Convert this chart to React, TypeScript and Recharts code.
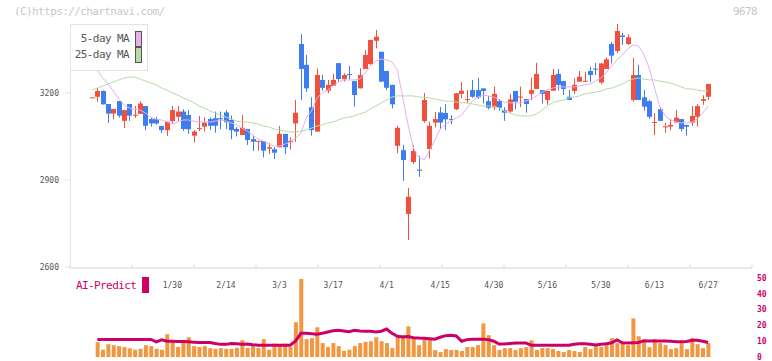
import { Bar, ComposedChart, Line, XAxis, YAxis } from "recharts";

const opens = [
  3185, 3187, 3207, 3162, 3129, 3172, 3104, 3162, 3122, 3128,
  3155, 3110, 3110, 3086, 3072, 3103, 3118, 3136, 3124, 3053,
  3076, 3084, 3110, 3113, 3113, 3133, 3107, 3076, 3055, 3076,
  3041, 3033, 3034, 3008, 3006, 3013, 3059, 3031, 3095, 3369,
  3297, 3151, 3067, 3245, 3208, 3225, 3303, 3248, 3265, 3241,
  3216, 3283, 3300, 3380, 3342, 3276, 3228, 3018, 3003, 2783,
  2962, 2936, 3103, 3007, 3098, 3133, 3131, 3110, 3144, 3197,
  3177, 3210, 3210, 3216, 3172, 3151, 3172, 3141, 3136, 3207,
  3186, 3179, 3197, 3214, 3210, 3176, 3208, 3266, 3241, 3187,
  3207, 3239, 3240, 3276, 3284, 3236, 3283, 3369, 3345, 3398,
  3369, 3176, 3262, 3185, 3172, 3098, 3144, 3083, 3084, 3098,
  3110, 3090, 3098, 3118, 3173, 3187,
];
const highs = [
  3186, 3217, 3209, 3162, 3145, 3172, 3141, 3162, 3155, 3172,
  3155, 3116, 3118, 3086, 3101, 3155, 3155, 3144, 3141, 3072,
  3121, 3116, 3116, 3136, 3136, 3141, 3122, 3082, 3124, 3076,
  3055, 3035, 3034, 3027, 3013, 3086, 3059, 3047, 3176, 3403,
  3331, 3185, 3285, 3262, 3245, 3266, 3303, 3268, 3293, 3241,
  3285, 3348, 3383, 3417, 3342, 3276, 3228, 3087, 3021, 2873,
  3021, 2983, 3200, 3101, 3134, 3152, 3162, 3124, 3201, 3238,
  3210, 3245, 3252, 3216, 3190, 3222, 3179, 3151, 3197, 3207,
  3222, 3179, 3253, 3304, 3210, 3207, 3283, 3283, 3241, 3210,
  3251, 3276, 3273, 3291, 3304, 3302, 3322, 3376, 3438, 3408,
  3403, 3322, 3297, 3210, 3176, 3130, 3151, 3098, 3110, 3141,
  3110, 3090, 3155, 3162, 3192, 3231,
];
const lows = [
  3184, 3170, 3160, 3097, 3110, 3115, 3079, 3104, 3114, 3128,
  3072, 3084, 3090, 3062, 3052, 3095, 3103, 3069, 3059, 3029,
  3069, 3067, 3072, 3063, 3075, 3075, 3041, 3050, 3055, 3021,
  3000, 3001, 2978, 2990, 2972, 3013, 2989, 3006, 3032, 3176,
  3204, 3053, 3067, 3208, 3199, 3225, 3239, 3239, 3247, 3153,
  3216, 3283, 3297, 3354, 3239, 3210, 3147, 2992, 2897, 2693,
  2955, 2911, 3097, 2975, 3082, 3075, 3072, 3093, 3141, 3182,
  3164, 3183, 3179, 3164, 3144, 3141, 3139, 3104, 3132, 3144,
  3151, 3132, 3176, 3214, 3164, 3159, 3208, 3208, 3193, 3176,
  3197, 3239, 3240, 3237, 3262, 3231, 3283, 3302, 3339, 3366,
  3366, 3170, 3176, 3139, 3110, 3055, 3104, 3063, 3072, 3098,
  3067, 3053, 3086, 3084, 3159, 3176,
];
const closes = [
  3185, 3207, 3161, 3129, 3145, 3122, 3141, 3122, 3125, 3164,
  3087, 3095, 3095, 3072, 3101, 3141, 3136, 3076, 3075, 3067,
  3079, 3098, 3087, 3087, 3109, 3099, 3072, 3067, 3080, 3038,
  3032, 3035, 3001, 3013, 2994, 3059, 3013, 3035, 3132, 3283,
  3216, 3072, 3262, 3218, 3228, 3245, 3248, 3262, 3263, 3193,
  3262, 3331, 3383, 3394, 3239, 3218, 3161, 3080, 2969, 2842,
  3000, 2932, 3176, 3087, 3110, 3098, 3109, 3108, 3199, 3208,
  3179, 3187, 3185, 3207, 3149, 3197, 3149, 3132, 3178, 3170,
  3188, 3162, 3210, 3266, 3197, 3207, 3262, 3228, 3214, 3176,
  3228, 3256, 3242, 3262, 3282, 3302, 3316, 3329, 3414, 3393,
  3392, 3262, 3176, 3153, 3118, 3100, 3104, 3085, 3090, 3115,
  3076, 3084, 3121, 3155, 3179, 3231,
];
const ma5 = [
  3300, 3279, 3252, 3231, 3207, 3179, 3159, 3148, 3145, 3141,
  3131, 3117, 3110, 3107, 3100, 3093, 3100, 3107, 3107, 3103,
  3100, 3100, 3100, 3103, 3107, 3103, 3097, 3090, 3079, 3069,
  3055, 3041, 3034, 3024, 3017, 3017, 3024, 3031, 3045, 3062,
  3114, 3138, 3183, 3200, 3210, 3224, 3238, 3245, 3245, 3245,
  3248, 3269, 3293, 3310, 3317, 3314, 3307, 3279, 3186, 3090,
  3010, 2979, 2969, 3003, 3038, 3076, 3093, 3103, 3114, 3124,
  3148, 3172, 3186, 3193, 3190, 3186, 3176, 3169, 3166, 3166,
  3166, 3172, 3179, 3190, 3203, 3210, 3217, 3221, 3221, 3221,
  3221, 3224, 3228, 3231, 3241, 3252, 3269, 3293, 3314, 3331,
  3352, 3366, 3362, 3334, 3286, 3217, 3152, 3121, 3107, 3100,
  3097, 3097, 3100, 3110, 3131, 3155,
];
const ma25 = [
  3210, 3217, 3224, 3231, 3238, 3245, 3252, 3255, 3255, 3248,
  3241, 3234, 3228, 3217, 3210, 3200, 3193, 3183, 3176, 3166,
  3155, 3148, 3138, 3131, 3124, 3117, 3110, 3103, 3100, 3100,
  3097, 3093, 3086, 3083, 3076, 3072, 3069, 3066, 3066, 3069,
  3072, 3079, 3086, 3090, 3097, 3100, 3107, 3114, 3117, 3121,
  3128, 3134, 3145, 3155, 3166, 3176, 3186, 3190, 3190, 3190,
  3190, 3186, 3186, 3183, 3179, 3176, 3172, 3172, 3169, 3166,
  3166, 3162, 3159, 3155, 3155, 3155, 3148, 3138, 3131, 3124,
  3121, 3121, 3121, 3128, 3141, 3155, 3166, 3172, 3176, 3183,
  3186, 3190, 3197, 3200, 3203, 3207, 3214, 3217, 3224, 3231,
  3241, 3248, 3252, 3248, 3245, 3245, 3241, 3238, 3234, 3228,
  3221, 3214, 3214, 3210, 3207, 3207,
];
const volumes = [
  null, 9.4, 4.6, 8.1, 7.5, 6.9, 6.3, 5.6, 4.6, 5.2,
  7.5, 6.9, 5.2, 4.6, 14.4, 9.4, 6.3, 9.4, 12.5, 6.9,
  6.3, 6.9, 5.6, 5.2, 5.6, 5.2, 5.2, 5.8, 10.6, 5.8,
  6.9, 5.8, 11.3, 4.6, 8.5, 6.9, 8.5, 6.3, 22, 49.4,
  11.3, 11.9, 18.8, 8.8, 6.3, 8.8, 6.9, 3.9, 4.6, 6.9,
  8.8, 9.6, 10, 12.5, 10, 8.8, 5.6, 12.5, 13.8, 19.4,
  11.9, 7.5, 11.3, 11.3, 4.4, 3.1, 5, 4.4, 4.4, 3.8,
  6.3, 6.3, 7.5, 21.3, 13.8, 7.5, 4.4, 5.6, 5.6, 4.4,
  5.6, 6.3, 10.6, 4.4, 5.6, 5.6, 5, 3.8, 3.1, 4.4,
  3.8, 3.1, 6.3, 5, 7.5, 6.3, 7.5, 11.9, 8.8, 8.8,
  7.5, 24.4, 13.1, 11.3, 6.3, 11.3, 8.8, 7.5, 5, 5.6,
  8.8, 5, 11.9, 8.1, 5.6, 8.8,
];
const aiPredict = [
  null, 11.1, 11.1, 11.1, 11.1, 11.1, 11.1, 11.1, 11.1, 11.1,
  11.1, 11.1, 9.6, 10.9, 10.0, 10.0, 9.8, 9.8, 9.6, 9.4,
  9.2, 9.2, 9.2, 8.5, 8.0, 8.0, 8.5, 8.4, 8.0, 8.2,
  7.8, 7.5, 7.5, 7.5, 7.5, 7.5, 7.5, 7.5, 10.2, 15.0,
  15.0, 14.7, 14.4, 15.0, 15.8, 16.6, 16.9, 16.5, 16.0, 16.9,
  16.5, 16.3, 16.3, 15.8, 16.3, 17.7, 15.0, 13.1, 12.7, 12.9,
  12.2, 12.0, 11.9, 11.6, 11.3, 12.5, 13.5, 13.8, 13.3, 10.0,
  11.0, 11.3, 11.3, 11.3, 11.0, 10.0, 8.2, 8.2, 8.5, 8.8,
  8.8, 8.8, 7.5, 7.5, 7.5, 7.5, 7.5, 7.5, 7.5, 7.5,
  8.1, 8.4, 8.4, 8.1, 7.6, 8.1, 8.4, 9.0, 10.8, 9.0,
  8.8, 9.0, 9.2, 10.2, 10.2, 10.2, 10.2, 10.2, 10.0, 9.6,
  9.6, 9.8, 10.6, 10.6, 10.0, 9.2,
];

const dateTicks = [15, 25, 35, 45, 55, 65, 75, 85, 95, 105, 115];
const dateLabels = ["1/30", "2/14", "3/3", "3/17", "4/1", "4/15", "4/30", "5/16", "5/30", "6/13", "6/27"];
const priceTicks = [2600, 2900, 3200];
const volumeTicks = [0, 10, 20, 30, 40, 50];
const frameTicks = [0, 1, 2, 3, 4, 5, 6, 7, 8, 9, 10, 11];

const rows = closes.map((close, i) => ({
  i,
  open: opens[i],
  high: highs[i],
  low: lows[i],
  close,
  hl: [lows[i], highs[i]],
  ma5: ma5[i],
  ma25: ma25[i],
  vol: volumes[i],
  ai: aiPredict[i],
}));

const UP = "#f0503e";
const DOWN = "#3e7df0";
const MA5 = "#e6b0ea";
const MA25 = "#b6dba8";
const VOL = "#f2973f";
const AI = "#cc0066";
const GRID = "#e2e2e2";
const MONO = "'DejaVu Sans Mono', 'Liberation Mono', monospace";
const X_DOMAIN = [-4.107, 123.2];
// price plot: y 6..267, x 70..752
const PRICE_MARGIN = { top: 6, right: 20, bottom: 64, left: 0 };

function Candle(props: any) {
  const { x, y, width, height, payload } = props;
  const { open, close, high, low } = payload;
  const color = close >= open ? UP : DOWN;
  const k = high > low ? height / (high - low) : 0;
  const top = y + (high - Math.max(open, close)) * k;
  const bodyH = Math.max(1, Math.abs(close - open) * k);
  const cx = Math.round(x + width / 2) + 0.5;
  return (
    <g>
      <line x1={cx} x2={cx} y1={y} y2={y + height} stroke={color} strokeWidth={1} />
      <rect x={cx - 2.5} y={top} width={5} height={bodyH} fill={color} />
    </g>
  );
}

const swatch = (bg: string) => ({
  display: "inline-block",
  width: 5,
  height: 14,
  background: bg,
  border: "1px solid #555",
  marginLeft: 6,
  verticalAlign: "middle",
});

const layer = { position: "absolute" as const, left: 0, top: 0 };

export default function App() {
  return (
    <div style={{ position: "absolute", left: 0, top: 0, width: 772, height: 361, background: "#fff", fontFamily: MONO }}>
      <div style={{ position: "absolute", left: 70, top: 24, width: 1, height: 244, background: GRID }} />

      {/* frame: axis line between panels, short ticks pointing up */}
      <div style={layer}>
        <ComposedChart width={772} height={361} data={rows} margin={{ top: 238, right: 20, bottom: 4, left: 70 }}>
          <XAxis
            xAxisId="frame"
            orientation="top"
            type="number"
            dataKey="i"
            domain={[0, 11]}
            allowDataOverflow
            ticks={frameTicks}
            interval={0}
            height={30}
            tickSize={3}
            axisLine={{ stroke: GRID, strokeWidth: 1.5 }}
            tickLine={{ stroke: GRID, strokeWidth: 1.5 }}
            tickFormatter={() => ""}
          />
          <YAxis yAxisId="f" domain={[0, 1]} hide />
          <Line xAxisId="frame" yAxisId="f" dataKey="close" stroke="none" dot={false} isAnimationActive={false} />
        </ComposedChart>
      </div>

      {/* price panel */}
      <div style={layer}>
        <ComposedChart width={772} height={361} data={rows} margin={PRICE_MARGIN}>
          <XAxis
            xAxisId="idx"
            type="number"
            dataKey="i"
            domain={X_DOMAIN}
            allowDataOverflow
            ticks={dateTicks}
            interval={0}
            height={30}
            axisLine={false}
            tickLine={false}
            tickMargin={9}
            tickFormatter={(v: number) => dateLabels[dateTicks.indexOf(v)] ?? ""}
            tick={{ fontSize: 8, fill: "#555", fontFamily: MONO }}
          />
          <YAxis
            yAxisId="price"
            width={70}
            domain={[2600, 3500]}
            ticks={priceTicks}
            interval={0}
            axisLine={false}
            tickLine={{ stroke: GRID }}
            tickSize={5}
            tickMargin={6}
            tick={{ fontSize: 8, fill: "#555", fontFamily: MONO }}
          />
          <Line xAxisId="idx" yAxisId="price" dataKey="ma25" stroke={MA25} strokeWidth={1} dot={false} isAnimationActive={false} />
          <Line xAxisId="idx" yAxisId="price" dataKey="ma5" stroke={MA5} strokeWidth={1} dot={false} isAnimationActive={false} />
          <Bar xAxisId="idx" yAxisId="price" dataKey="hl" barSize={5} shape={Candle} isAnimationActive={false} />
        </ComposedChart>
      </div>

      {/* volume + AI-Predict panel */}
      <div style={layer}>
        <ComposedChart width={772} height={361} data={rows} margin={{ top: 278, right: 0, bottom: 4, left: 70 }}>
          <XAxis xAxisId="idx" type="number" dataKey="i" domain={X_DOMAIN} allowDataOverflow hide />
          <YAxis
            yAxisId="vol"
            orientation="right"
            width={20}
            domain={[0, 50]}
            ticks={volumeTicks}
            interval={0}
            axisLine={false}
            tickLine={false}
            tickSize={0}
            tickMargin={5}
            tick={{ fontSize: 8, fill: AI, fontFamily: MONO, fontWeight: "bold" }}
          />
          <Bar xAxisId="idx" yAxisId="vol" dataKey="vol" fill={VOL} barSize={4} isAnimationActive={false} />
          <Line xAxisId="idx" yAxisId="vol" dataKey="ai" stroke={AI} strokeWidth={3} dot={false} isAnimationActive={false} />
        </ComposedChart>
      </div>

      <div style={{ position: "absolute", left: 14, top: 5, fontSize: 11, letterSpacing: -0.6, color: "#c8c8c8" }}>
        (C)https://chartnavi.com/
      </div>
      <div style={{ position: "absolute", right: 15, top: 5, fontSize: 11, letterSpacing: -0.6, color: "#c8c8c8" }}>9678</div>
      <div
        style={{
          position: "absolute",
          left: 70,
          top: 24,
          width: 78,
          height: 47,
          border: `1.5px solid ${GRID}`,
          background: "#fff",
          fontSize: 11,
          letterSpacing: -0.6,
          color: "#555",
          textAlign: "right",
          paddingRight: 5,
          boxSizing: "border-box",
          paddingTop: 6,
          lineHeight: "16px",
        }}
      >
        <div>
          5-day MA<span style={swatch(MA5)} />
        </div>
        <div>
          25-day MA<span style={swatch(MA25)} />
        </div>
      </div>
      <div style={{ position: "absolute", left: 76, top: 279, fontSize: 11, letterSpacing: -0.6, color: AI }}>AI-Predict</div>
      <div style={{ position: "absolute", left: 142, top: 277, width: 7, height: 16, background: AI }} />
    </div>
  );
}
